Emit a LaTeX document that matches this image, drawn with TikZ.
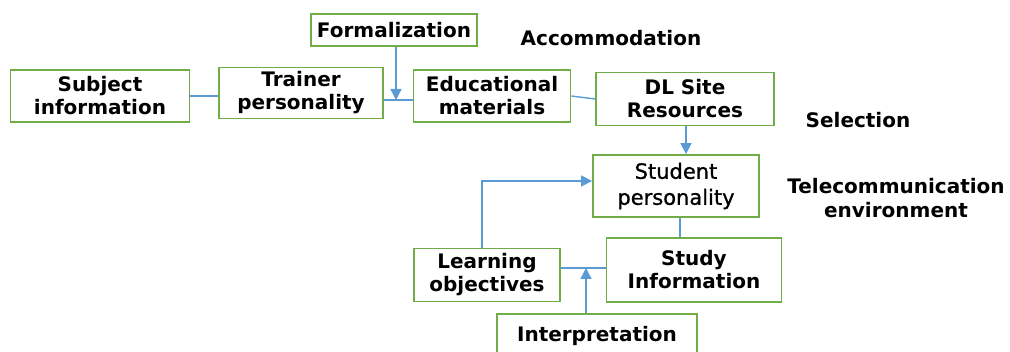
\documentclass[tikz,border=0pt]{standalone}
\usepackage{fontspec}
\setmainfont{DejaVu Sans}
\newfontfamily\semibold[FakeBold=1]{DejaVu Sans}
\usetikzlibrary{arrows.meta}
\definecolor{bgreen}{RGB}{112,173,71}
\definecolor{lblue}{RGB}{91,155,213}
\begin{document}
\begin{tikzpicture}[x=1pt,y=-1pt,
  box/.style={draw=bgreen,line width=1.8pt,fill=white,align=center,inner sep=0pt,
    font=\fontsize{20}{23}\selectfont\bfseries},
  lab/.style={align=center,inner sep=0pt,font=\fontsize{20}{24}\selectfont\bfseries},
  link/.style={draw=lblue,line width=1.4pt},
  arr/.style={link,-{Triangle[width=11pt,length=11pt]}}]
\useasboundingbox (0,0) rectangle (1010,352);
\node[box,minimum width=166pt,minimum height=32pt] (form) at (394,30) {Formalization};
\node[box,minimum width=179pt,minimum height=52pt] (subj) at (100,96) {Subject\\information};
\node[box,minimum width=164pt,minimum height=51pt] (train) at (301,93) {Trainer\\personality};
\node[box,minimum width=157pt,minimum height=52pt] (edu) at (492,96) {Educational\\materials};
\node[box,minimum width=178pt,minimum height=53pt] (dl) at (685,99) {DL Site\\Resources};
\node[box,minimum width=166pt,minimum height=62pt,font=\semibold\fontsize{21}{26}\selectfont] (stud) at (676,186) {Student\\personality};
\node[box,minimum width=146pt,minimum height=53pt] (learn) at (487,275) {Learning\\objectives};
\node[box,minimum width=175pt,minimum height=64pt] (study) at (694,270) {Study\\Information};
\node[box,minimum width=200pt,minimum height=44pt] (interp) at (597,336) {Interpretation};
\node[lab] (acc) at (611,38) {Accommodation};
\node[lab] (sel) at (858,120) {Selection};
\node[lab] (tel) at (896,198) {Telecommunication\\environment};
\coordinate (j1) at (396,100);
\coordinate (j2) at (586,268);
\draw[link] (subj.east) -- (train.west |- subj.east);
\draw[link] (train.east |- j1) -- (edu.west |- j1);
\draw[arr] (form.south -| j1) -- (j1);
\draw[link] (edu.east) -- (dl.west);
\draw[arr] (dl.south -| 686,0) -- (stud.north -| 686,0);
\draw[link] (stud.south -| 680,0) -- (study.north -| 680,0);
\draw[arr] (learn.north -| 482,0) -- (482,181) -- (stud.west |- 0,181);
\draw[link] (learn.east |- j2) -- (study.west |- j2);
\draw[arr] (interp.north -| j2) -- (j2);
\end{tikzpicture}
\end{document}
